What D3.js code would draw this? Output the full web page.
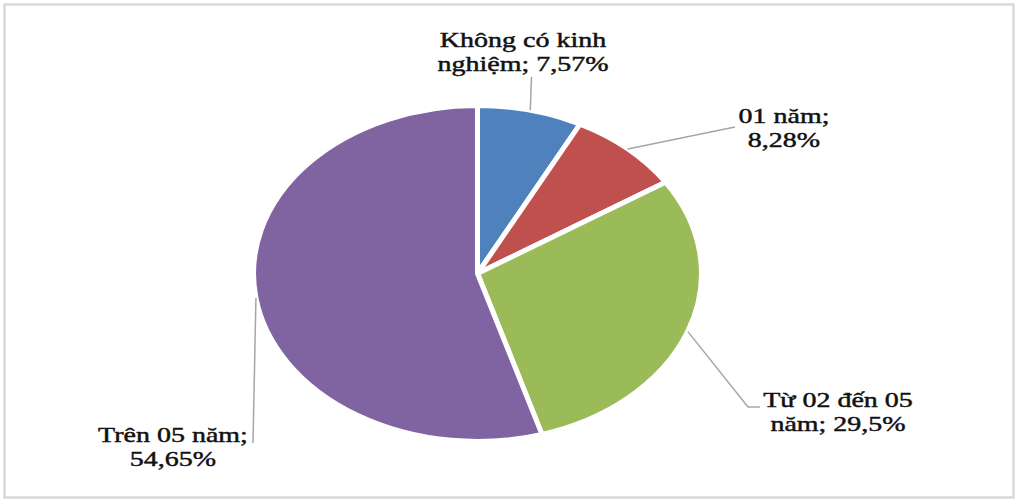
<!DOCTYPE html>
<html lang="vi">
<head>
  <meta charset="UTF-8">
  <title>Kinh nghiệm</title>
  <script src="https://cdn.jsdelivr.net/npm/d3@7/dist/d3.min.js"></script>
  <style>
    body{ margin:0; background:#fff; }
    .chart text{ font-family:"Liberation Serif","Times New Roman",serif; font-size:21px; fill:#111; stroke:#111; stroke-width:0.45px; }
  </style>
</head>
<body>
<div class="chart"></div>
<script>
const categories = ["Không có kinh nghiệm", "01 năm", "Từ 02 đến 05 năm", "Trên 05 năm"];
const values = [7.57, 8.28, 29.5, 54.65];
const colors = ["#4f81bd", "#c0504d", "#9bbb59", "#8064a2"];
// how many words of the label go on the first line
const firstLineWords = [3, 2, 4, 3];

const W = 1020, H = 504;
const cx = 477.5, cy = 273.5, r = 168, sx = 1.333; // pie is stretched horizontally, like the picture

// label placement (centre x, first baseline) and leader bend points
const labelPos = [
  {x: 523, y: 47, pts: [[531.5, 77]]},
  {x: 784, y: 123, pts: [[735, 127]]},
  {x: 838, y: 407, pts: [[748, 407], [760, 407]]},
  {x: 173, y: 442, pts: [[253, 443]]}
];

const svg = d3.select('.chart').append('svg')
  .attr('width', W).attr('height', H);

svg.append('rect')
  .attr('x', 4.5).attr('y', 4.5).attr('width', 1009).attr('height', 493)
  .attr('fill', '#fff').attr('stroke', '#d9d9d9').attr('stroke-width', 2.5);

const data = values.map((v, i) => ({cat: categories[i], value: v, i}));
const pie = d3.pie().sort(null).value(d => d.value);
const arcs = pie(data);
const arc = d3.arc().innerRadius(0).outerRadius(r);

const g = svg.append('g').attr('transform', `translate(${cx} ${cy}) scale(${sx} 1)`);
g.selectAll('path').data(arcs).enter().append('path')
  .attr('d', arc)
  .attr('fill', d => colors[d.data.i])
  .attr('stroke', '#fff').attr('stroke-width', 5)
  .attr('vector-effect', 'non-scaling-stroke')
  .attr('stroke-linejoin', 'round');

const fmt = v => String(v).replace('.', ',') + '%';

// leader lines: start on the slice edge at its middle angle
const lines = svg.append('g');
arcs.forEach((d, k) => {
  const a = (d.startAngle + d.endAngle) / 2;
  const start = [cx + sx * r * Math.sin(a), cy - r * Math.cos(a)];
  lines.append('path')
    .attr('d', d3.line()([start].concat(labelPos[k].pts)))
    .attr('fill', 'none').attr('stroke', '#a6a6a6').attr('stroke-width', 1.5);
});

const labels = svg.append('g');
arcs.forEach((d, k) => {
  const words = (d.data.cat + '; ' + fmt(d.data.value)).split(' ');
  const l1 = words.slice(0, firstLineWords[k]).join(' ');
  const l2 = words.slice(firstLineWords[k]).join(' ');
  const p = labelPos[k];
  const t = labels.append('text')
    .attr('text-anchor', 'middle')
    .attr('transform', `translate(${p.x} ${p.y}) scale(${sx} 1)`);
  t.append('tspan').attr('x', 0).attr('y', 0).text(l1);
  t.append('tspan').attr('x', 0).attr('y', 24).text(l2);
});
</script>
</body>
</html>
